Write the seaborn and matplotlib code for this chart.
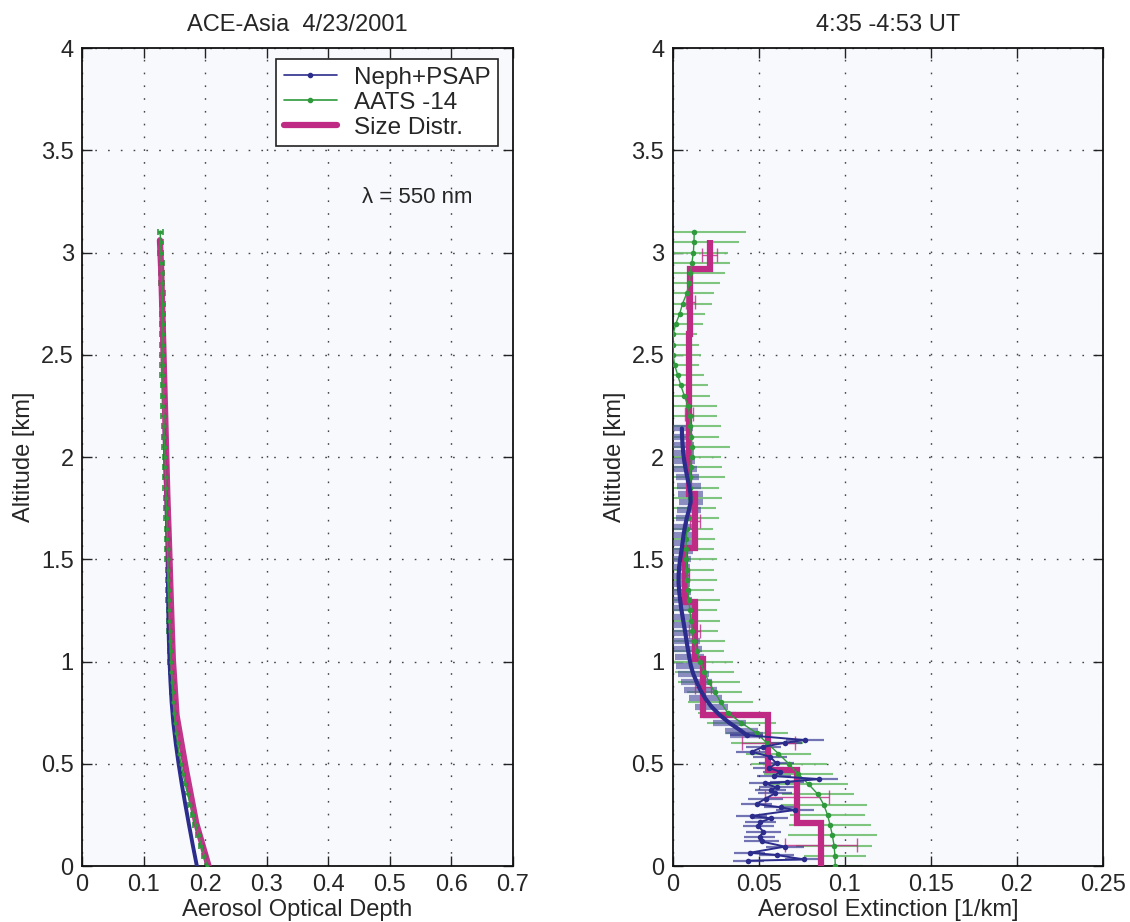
import numpy as np
import matplotlib
matplotlib.use("Agg")
import matplotlib.pyplot as plt
import seaborn as sns
from matplotlib.ticker import FuncFormatter
from matplotlib.lines import Line2D

# ---------------- data ----------------
# AATS-14 (shared altitudes for AOD and extinction)
aats_alt = [0.00, 0.05, 0.10, 0.15, 0.20, 0.25, 0.30, 0.35, 0.40, 0.45, 0.50, 0.55, 0.60, 0.65,
            0.70, 0.75, 0.80, 0.85, 0.90, 0.95, 1.00, 1.05, 1.10, 1.15, 1.20, 1.25, 1.30, 1.35,
            1.40, 1.45, 1.50, 1.55, 1.60, 1.65, 1.70, 1.75, 1.80, 1.85, 1.90, 1.95, 2.00, 2.05,
            2.10, 2.15, 2.20, 2.25, 2.30, 2.35, 2.40, 2.45, 2.50, 2.55, 2.60, 2.65, 2.70, 2.75,
            2.80, 2.85, 2.90, 2.95, 3.00, 3.05, 3.10]
aats_aod = [0.2030, 0.1985, 0.1938, 0.1892, 0.1847, 0.1802, 0.1758, 0.1716, 0.1676, 0.1640,
            0.1607, 0.1578, 0.1552, 0.1530, 0.1512, 0.1497, 0.1484, 0.1472, 0.1462, 0.1452,
            0.1444, 0.1437, 0.1431, 0.1425, 0.1420, 0.1415, 0.1410, 0.1406, 0.1402, 0.1398,
            0.1394, 0.1390, 0.1386, 0.1382, 0.1378, 0.1373, 0.1368, 0.1363, 0.1358, 0.1353,
            0.1347, 0.1342, 0.1336, 0.1331, 0.1326, 0.1321, 0.1318, 0.1316, 0.1314, 0.1313,
            0.1313, 0.1313, 0.1313, 0.1312, 0.1310, 0.1307, 0.1303, 0.1298, 0.1293, 0.1287,
            0.1281, 0.1275, 0.1269]
aats_ext = [0.0945, 0.0943, 0.0938, 0.0928, 0.0915, 0.0900, 0.0878, 0.0845, 0.0790, 0.0730,
            0.0675, 0.0615, 0.0550, 0.0488, 0.0400, 0.0320, 0.0280, 0.0245, 0.0210, 0.0185,
            0.0160, 0.0140, 0.0125, 0.0114, 0.0108, 0.0100, 0.0095, 0.0090, 0.0086, 0.0082,
            0.0080, 0.0078, 0.0079, 0.0083, 0.0087, 0.0093, 0.0099, 0.0101, 0.0103, 0.0106,
            0.0110, 0.0112, 0.0109, 0.0104, 0.0100, 0.0090, 0.0068, 0.0048, 0.0030, 0.0012,
            0.0003, 0.0001, 0.0003, 0.0018, 0.0041, 0.0058, 0.0082, 0.0096, 0.0104, 0.0112,
            0.0121, 0.0124, 0.0126]
aats_err = [0.016, 0.018, 0.022, 0.026, 0.024, 0.022, 0.025, 0.021, 0.023, 0.020,
            0.022, 0.019, 0.021, 0.018, 0.020, 0.017, 0.019, 0.016, 0.018, 0.017,
            0.019, 0.016, 0.018, 0.015, 0.017, 0.016, 0.018, 0.015, 0.017, 0.016,
            0.018, 0.016, 0.017, 0.015, 0.018, 0.016, 0.019, 0.017, 0.020, 0.018,
            0.017, 0.022, 0.016, 0.018, 0.016, 0.017, 0.015, 0.016, 0.015, 0.014,
            0.016, 0.015, 0.014, 0.016, 0.015, 0.017, 0.016, 0.018, 0.020, 0.022,
            0.020, 0.026, 0.030]

# Neph+PSAP optical depth
neph_aod_alt = [0.00, 0.10, 0.20, 0.30, 0.40, 0.50, 0.60, 0.70, 0.80, 0.90, 1.00, 1.10,
                1.20, 1.30, 1.40, 1.50, 1.60, 1.70, 1.80, 1.90, 2.00, 2.10, 2.14]
neph_aod = [0.1865, 0.1800, 0.1738, 0.1678, 0.1620, 0.1568, 0.1522, 0.1483, 0.1455, 0.1436,
            0.1421, 0.1410, 0.1403, 0.1398, 0.1394, 0.1390, 0.1386, 0.1378, 0.1369, 0.1358,
            0.1350, 0.1343, 0.1341]

# Neph+PSAP extinction: smooth upper part and noisy lower part
neph_alt_hi = [2.14, 2.10, 2.06, 2.02, 1.98, 1.94, 1.90, 1.86, 1.82, 1.78, 1.74, 1.70, 1.66,
               1.62, 1.58, 1.54, 1.50, 1.46, 1.42, 1.38, 1.34, 1.30, 1.26, 1.22, 1.18, 1.14,
               1.10, 1.06, 1.02, 0.98, 0.94, 0.90, 0.86, 0.82, 0.78, 0.74, 0.70, 0.66, 0.64]
neph_ext_hi = [0.0054, 0.0055, 0.0058, 0.0062, 0.0068, 0.0076, 0.0086, 0.0096, 0.0104, 0.0105,
               0.0095, 0.0082, 0.0072, 0.0064, 0.0058, 0.0051, 0.0044, 0.0038, 0.0035, 0.0035,
               0.0039, 0.0044, 0.0050, 0.0058, 0.0066, 0.0074, 0.0081, 0.0089, 0.0097, 0.0106,
               0.0120, 0.0140, 0.0162, 0.0190, 0.0225, 0.0272, 0.0330, 0.0400, 0.0430]
neph_err_hi = [0.0065, 0.0065, 0.0065, 0.0065, 0.0065, 0.0065, 0.0068, 0.0070, 0.0070, 0.0070,
               0.0068, 0.0065, 0.0065, 0.0065, 0.0065, 0.0065, 0.0065, 0.0065, 0.0065, 0.0065,
               0.0070, 0.0070, 0.0070, 0.0075, 0.0075, 0.0075, 0.0080, 0.0080, 0.0085, 0.0085,
               0.0090, 0.0090, 0.0095, 0.0095, 0.0095, 0.0095, 0.0095, 0.0095, 0.0095]
neph_alt_lo = [0.640, 0.616, 0.603, 0.583, 0.559, 0.535, 0.502, 0.480, 0.461, 0.440, 0.425,
               0.412, 0.404, 0.385, 0.370, 0.355, 0.330, 0.303, 0.287, 0.274, 0.245, 0.233,
               0.215, 0.196, 0.168, 0.144, 0.120, 0.095, 0.065, 0.054, 0.032, 0.026]
neph_ext_lo = [0.0430, 0.0769, 0.0652, 0.0527, 0.0459, 0.0565, 0.0604, 0.0560, 0.0623, 0.0590,
               0.0850, 0.0666, 0.0536, 0.0604, 0.0570, 0.0594, 0.0540, 0.0488, 0.0629, 0.0710,
               0.0459, 0.0571, 0.0510, 0.0498, 0.0527, 0.0507, 0.0517, 0.0652, 0.0449, 0.0604,
               0.0765, 0.0440]
neph_err_lo = [0.0095, 0.011, 0.010, 0.010, 0.009, 0.010, 0.010, 0.009, 0.010, 0.010, 0.011,
               0.010, 0.009, 0.010, 0.009, 0.010, 0.010, 0.009, 0.010, 0.011, 0.009, 0.010,
               0.009, 0.009, 0.010, 0.009, 0.010, 0.011, 0.009, 0.010, 0.011, 0.009]

# Size distribution
sd_aod_alt = [0.0, 0.209, 0.469, 0.738, 1.01, 1.29, 1.555, 1.82, 2.60, 2.92, 3.06]
sd_aod = [0.2055, 0.1855, 0.1690, 0.1535, 0.1475, 0.1443, 0.1415, 0.1385, 0.1315, 0.1285, 0.1265]
sd_edges = [0.0, 0.209, 0.469, 0.738, 1.01, 1.29, 1.555, 1.82, 2.60, 2.92, 3.06]
sd_ext = [0.0861, 0.0722, 0.0556, 0.0178, 0.0129, 0.0074, 0.0132, 0.0097, 0.0104, 0.0215]
sd_err = [0.0208, 0.0187, 0.0154, 0.0045, 0.0032, 0.0020, 0.0030, 0.0022, 0.0024, 0.0045]

# ---------------- style ----------------
sns.set_theme(style="ticks")
plt.rcParams['font.family'] = ['Liberation Sans', 'DejaVu Sans']

NAVY = '#2B2C8C'
BAND = '#5253A0'
GREEN = '#2F9A3C'
LGREEN = '#72C072'
MAG = '#BE2A84'
FACE = '#F7F9FD'

fig = plt.figure(figsize=(11.3, 9.22), dpi=100)
ax1 = fig.add_axes([0.0726, 0.0607, 0.3814, 0.8872])
ax2 = fig.add_axes([0.5952, 0.0607, 0.3809, 0.8872])

fmt = FuncFormatter(lambda v, p: f"{v:g}")
for ax in (ax1, ax2):
    ax.set_facecolor(FACE)
    ax.set_ylim(0, 4)
    ax.set_yticks([0, 0.5, 1, 1.5, 2, 2.5, 3, 3.5, 4])
    ax.xaxis.set_major_formatter(fmt)
    ax.yaxis.set_major_formatter(fmt)
    ax.grid(True, linestyle=(0, (1.2, 8)), color='#444444', linewidth=1.0)
    ax.tick_params(direction='in', top=True, right=True, length=7, width=1.0,
                   labelsize=17, color='#222222', pad=6)
    for s in ax.spines.values():
        s.set_linewidth(1.3)
        s.set_color('#111111')
    ax.set_ylabel('Altitude [km]', fontsize=17, labelpad=4)
    ax.set_axisbelow(True)

# ---- left panel ----
ax1.set_xlim(0, 0.7)
ax1.set_xticks([0, 0.1, 0.2, 0.3, 0.4, 0.5, 0.6, 0.7])
ax1.errorbar(aats_aod, aats_alt, xerr=0.004, fmt='none', ecolor=GREEN, elinewidth=1.2,
             capsize=2.5, capthick=1.2, zorder=2)
sns.lineplot(x=neph_aod, y=neph_aod_alt, sort=False, estimator=None, ax=ax1, color=NAVY,
             linewidth=2.8, zorder=3)
sns.lineplot(x=sd_aod, y=sd_aod_alt, sort=False, estimator=None, ax=ax1, color=MAG,
             linewidth=4.5, alpha=0.95, zorder=4)
sns.lineplot(x=aats_aod, y=aats_alt, sort=False, estimator=None, ax=ax1, color=GREEN,
             linewidth=1.0, marker='o', markersize=3, markeredgewidth=0, zorder=5)
ax1.set_xlabel('Aerosol Optical Depth', fontsize=17, labelpad=2)
ax1.set_title('ACE-Asia  4/23/2001', fontsize=17, pad=12)
ax1.text(0.455, 3.27, 'λ = 550 nm', fontsize=16, ha='left', va='center')

handles = [Line2D([], [], color=NAVY, lw=1.2, marker='o', markersize=3),
           Line2D([], [], color=GREEN, lw=1.2, marker='o', markersize=3),
           Line2D([], [], color=MAG, lw=4.5)]
leg = ax1.legend(handles, ['Neph+PSAP', 'AATS -14', 'Size Distr.'], loc='upper right',
                 bbox_to_anchor=(0.982, 0.995), fontsize=17.5, frameon=True, fancybox=False,
                 edgecolor='#222222', framealpha=1.0, facecolor='white', handlelength=2.2,
                 borderpad=0.3, labelspacing=0.12, handletextpad=0.7, borderaxespad=0.3)
leg.get_frame().set_linewidth(1.2)

# ---- right panel ----
ax2.set_xlim(0, 0.25)
ax2.set_xticks([0, 0.05, 0.1, 0.15, 0.2, 0.25])
ax2.errorbar(aats_ext, aats_alt, xerr=aats_err, fmt='none', ecolor=LGREEN, elinewidth=1.5,
             alpha=0.9, zorder=2)
ax2.errorbar(neph_ext_hi, neph_alt_hi, xerr=neph_err_hi, fmt='none', ecolor=BAND,
             elinewidth=4.5, alpha=0.65, zorder=3)
ax2.errorbar(neph_ext_lo, neph_alt_lo, xerr=neph_err_lo, fmt='none', ecolor=NAVY,
             elinewidth=1.6, alpha=0.65, zorder=3)
ax2.stairs(sd_ext, sd_edges, orientation='horizontal', baseline=None, color=MAG,
           linewidth=4.5, zorder=4)
sd_mid = [(sd_edges[i] + sd_edges[i + 1]) / 2 for i in range(len(sd_ext))]
ax2.errorbar(sd_ext, sd_mid, xerr=sd_err, fmt='none', ecolor=MAG, elinewidth=1.0,
             capsize=5, capthick=1.0, alpha=0.8, zorder=4)
sns.lineplot(x=aats_ext, y=aats_alt, sort=False, estimator=None, ax=ax2, color=GREEN,
             linewidth=1.0, marker='o', markersize=4, markeredgewidth=0, zorder=5)
sns.lineplot(x=neph_ext_hi, y=neph_alt_hi, sort=False, estimator=None, ax=ax2, color=NAVY,
             linewidth=3.0, zorder=6)
sns.lineplot(x=neph_ext_lo, y=neph_alt_lo, sort=False, estimator=None, ax=ax2, color=NAVY,
             linewidth=1.4, marker='o', markersize=4, markeredgewidth=0, zorder=6)
ax2.set_xlabel('Aerosol Extinction [1/km]', fontsize=17, labelpad=2)
ax2.set_title('4:35 -4:53 UT', fontsize=17, pad=12)

fig.savefig('out.png', dpi=100)
